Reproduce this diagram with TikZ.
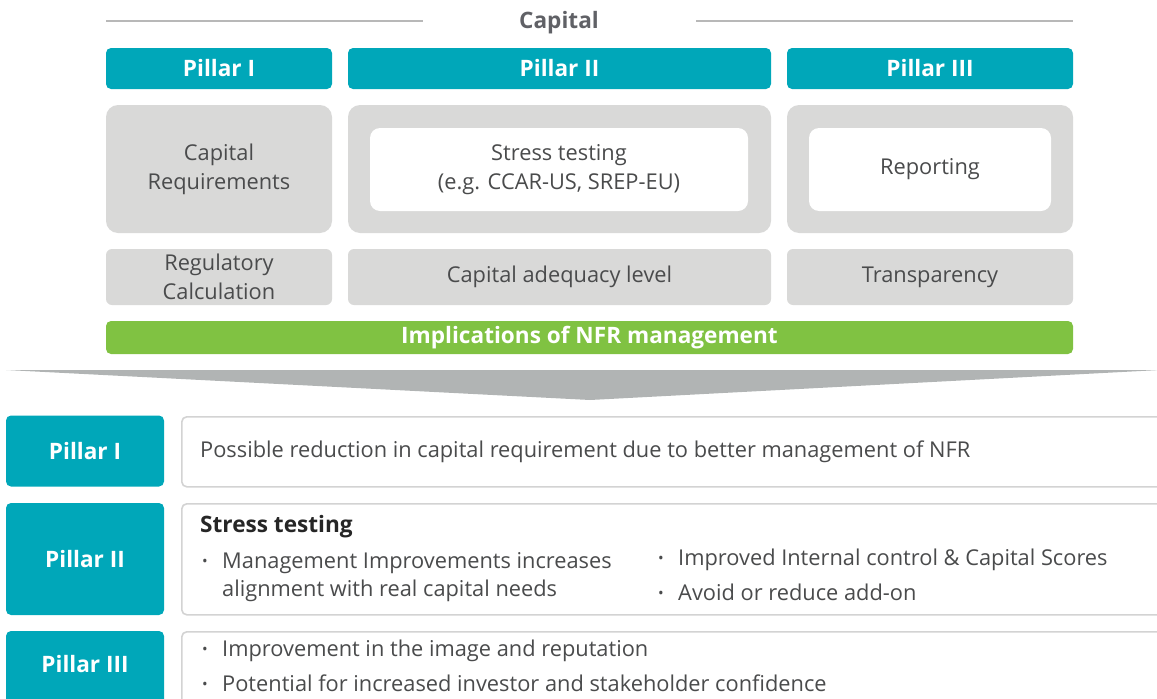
\documentclass[tikz,border=0pt]{standalone}
\usepackage{fontspec}
\setmainfont{Open Sans}
\definecolor{tealc}{HTML}{00A7B9}
\definecolor{greenc}{HTML}{80C242}
\definecolor{greyc}{HTML}{D9D9D8}
\definecolor{chevc}{HTML}{B1B4B4}
\definecolor{txtc}{HTML}{4A4B4C}
\definecolor{capc}{HTML}{606166}
\definecolor{borderc}{HTML}{D3D3D3}
\definecolor{rulec}{HTML}{B8B8B8}
\newcommand{\bul}{\makebox[20pt][l]{\raisebox{1.5pt}{\fontsize{15}{15}\selectfont•}}}
\tikzset{
  body/.style={font=\fontsize{21.8}{29}\selectfont, text=txtc},
  boldf/.style={font=\fontsize{22.6}{26}\selectfont\bfseries},
  headbox/.style={fill=tealc, rounded corners=5pt, text=white, boldf, inner sep=0pt},
  greybox/.style={fill=greyc, rounded corners=12pt, inner sep=0pt},
  lowbox/.style={fill=greyc, rounded corners=6pt, inner sep=0pt, body, align=center},
  whitebox/.style={fill=white, rounded corners=10pt, inner sep=0pt, body, align=center},
  rowbox/.style={draw=borderc, line width=1.6pt, fill=white, rounded corners=5pt, inner sep=0pt},
  itemtxt/.style={body, anchor=base west, inner sep=0pt},
}
\begin{document}
\begin{tikzpicture}[x=1pt,y=-1pt]
\useasboundingbox (0,0) rectangle (1157,699);
% Title
\node[boldf, text=capc, anchor=base] (cap) at (559,28) {Capital};
\coordinate (l1) at (106,21);
\coordinate (r1) at (1073,21);
\draw[rulec, line width=2pt] (l1) -- (423,21);
\draw[rulec, line width=2pt] (696,21) -- (r1);
% Headers
\node[headbox, minimum width=226, minimum height=41] (h1) at (219,68.5) {Pillar I};
\node[headbox, minimum width=423, minimum height=41] (h2) at (559.5,68.5) {Pillar II};
\node[headbox, minimum width=286, minimum height=41] (h3) at (930,68.5) {Pillar III};
% Grey boxes
\node[greybox, minimum width=226, minimum height=128, body, align=center] (g1) at (219,169) {Capital\\Requirements};
\node[greybox, minimum width=423, minimum height=128] (g2) at (559.5,169) {};
\node[greybox, minimum width=286, minimum height=128] (g3) at (930,169) {};
\node[whitebox, minimum width=378, minimum height=83] (w2) at (559,169.5) {Stress testing\\(e.g. CCAR-US, SREP-EU)};
\node[whitebox, minimum width=242, minimum height=83] (w3) at (930,169.5) {Reporting};
% Low boxes
\node[lowbox, minimum width=226, minimum height=56] (b1) at (219,277) {Regulatory\\Calculation};
\node[lowbox, minimum width=423, minimum height=56] (b2) at (559.5,277) {Capital adequacy level};
\node[lowbox, minimum width=286, minimum height=56] (b3) at (930,277) {Transparency};
% Green bar
\node[fill=greenc, rounded corners=5pt, minimum width=967, minimum height=33, inner sep=0pt, text=white, boldf] (nfr) at (589.5,337.5) {Implications of NFR management};
% Chevron
\coordinate (c1) at (6,370);
\coordinate (c2) at (1160,370);
\coordinate (c3) at (590,400);
\fill[chevc] (c1) -- (c2) -- (c3) -- cycle;
% Bottom rows
\node[headbox, minimum width=158, minimum height=71] (p1) at (85,451) {Pillar I};
\node[rowbox, minimum width=1000, minimum height=70, anchor=north west] (r1box) at (181,416) {};
\node[itemtxt] (t1) at (200,457) {Possible reduction in capital requirement due to better management of NFR};

\node[headbox, minimum width=158, minimum height=112] (p2) at (85,559) {Pillar II};
\node[rowbox, minimum width=1000, minimum height=111, anchor=north west] (r2box) at (181,503) {};
\node[itemtxt, boldf, text=black!85] (st) at (200,532.5) {Stress testing};
\node[itemtxt] (i1) at (202,568) {\bul Management Improvements increases};
\node[itemtxt] (i1b) at (222,596.5) {alignment with real capital needs};
\node[itemtxt] (i2) at (658,565) {\bul Improved Internal control \& Capital Scores};
\node[itemtxt] (i3) at (658,600) {\bul Avoid or reduce add-on};

\node[headbox, minimum width=158, minimum height=80] (p3) at (85,671) {};
\node[text=white, boldf, inner sep=0pt] (p3t) at (85,664) {Pillar III};
\node[rowbox, minimum width=1000, minimum height=90, anchor=north west] (r3box) at (181,631) {};
\node[itemtxt] (i4) at (202,656) {\bul Improvement in the image and reputation};
\node[itemtxt] (i5) at (202,691) {\bul Potential for increased investor and stakeholder confidence};
\end{tikzpicture}
\end{document}
